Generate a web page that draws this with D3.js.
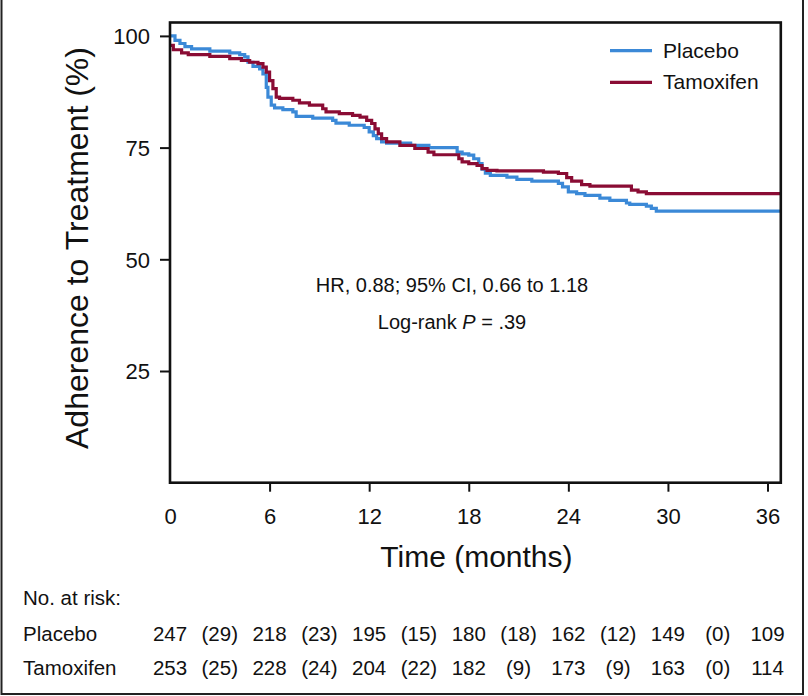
<!DOCTYPE html>
<html>
<head>
<meta charset="utf-8">
<script src="https://cdn.jsdelivr.net/npm/d3@7"></script>
<style>
  html, body { margin: 0; padding: 0; background: #fff; }
  svg { display: block; font-family: "Liberation Sans", Arial, Helvetica, sans-serif; }
</style>
</head>
<body>
<svg id="chart" width="808" height="696"></svg>
<script>
// ---- data ----
const placeboTimes  = [0, 0.3, 0.6, 0.9, 1.3, 2.4, 3.6, 4.2, 4.5, 4.7, 5.0, 5.4, 5.6, 5.8, 5.9, 6.1, 6.3, 6.8, 7.4, 7.6, 8.6, 9.8, 10.0, 10.8, 11.7, 12.0, 12.25, 12.45, 12.75, 13.05, 14.5, 15.6, 17.3, 17.6, 18.0, 18.3, 18.6, 18.8, 19.0, 19.3, 20.3, 20.9, 21.8, 23.4, 23.65, 24.0, 24.5, 25.0, 25.9, 26.5, 27.5, 27.7, 28.7, 29.0, 29.3, 36.8];
const placeboValues = [100, 99.0, 98.3, 97.6, 97.1, 96.6, 96.2, 95.8, 95.3, 94.1, 93.2, 92.6, 91.5, 88.5, 86.3, 84.5, 83.9, 83.5, 83.0, 82.0, 81.6, 81.1, 80.5, 80.0, 79.5, 78.5, 77.7, 77.0, 76.3, 76.0, 75.5, 75.0, 74.0, 73.6, 73.3, 72.5, 71.4, 70.2, 69.3, 68.8, 68.4, 67.9, 67.5, 67.0, 66.2, 65.1, 64.7, 64.3, 63.7, 63.2, 62.6, 62.3, 61.9, 61.4, 60.8, 60.8];

const tamoxifenTimes  = [0, 0.2, 0.7, 1.1, 2.4, 3.6, 4.3, 4.8, 5.3, 5.6, 5.8, 6.0, 6.2, 6.4, 6.6, 7.4, 7.8, 8.4, 9.2, 9.4, 10.2, 11.0, 11.45, 11.85, 12.15, 12.35, 12.55, 12.75, 13.05, 13.85, 14.75, 15.55, 15.9, 17.4, 17.6, 18.0, 18.5, 18.8, 19.1, 19.7, 22.5, 23.4, 23.9, 24.2, 24.8, 25.3, 27.8, 28.2, 28.7, 36.8];
const tamoxifenValues = [97.9, 96.9, 96.2, 95.8, 95.4, 94.9, 94.5, 94.1, 93.8, 93.0, 91.9, 90.0, 88.2, 86.3, 86.0, 85.6, 85.0, 84.5, 83.7, 83.0, 82.6, 82.2, 81.8, 81.1, 80.4, 79.2, 78.1, 77.0, 76.3, 75.5, 74.8, 74.0, 73.4, 72.5, 71.8, 71.4, 71.0, 70.3, 69.9, 69.8, 69.5, 69.2, 68.3, 67.5, 66.7, 66.4, 65.5, 65.1, 64.7, 64.7];

const xTicks = [0, 6, 12, 18, 24, 30, 36];
const yTicks = [25, 50, 75, 100];

const seriesNames = ["Placebo", "Tamoxifen"];
const seriesColors = ["#3b89d7", "#8a0c34"];

const riskTimes = [0, 6, 12, 18, 24, 30, 36];
const riskMidTimes = [3, 9, 15, 21, 27, 33];
const placeboAtRisk = [247, 218, 195, 180, 162, 149, 109];
const placeboCensored = [29, 23, 15, 18, 12, 0];
const tamoxifenAtRisk = [253, 228, 204, 182, 173, 163, 114];
const tamoxifenCensored = [25, 24, 22, 9, 9, 0];

// ---- layout ----
const svg = d3.select("#chart");
const L = 170, R = 780.8, T = 22.5, B = 482.7;
const x = d3.scaleLinear().domain([0, 36.8]).range([L, R]);
const y = d3.scaleLinear().domain([0, 103]).range([B, T]);

svg.append("rect").attr("width", 808).attr("height", 696).attr("fill", "#fff");

// outer frame (left, bottom, right)
svg.append("path")
  .attr("d", `M1.5,-2 V694 H803 V-2`)
  .attr("fill", "none").attr("stroke", "#222").attr("stroke-width", 2);

// curves
const line = d3.line().curve(d3.curveStepAfter).x(d => x(d[0])).y(d => y(d[1]));
const series = [
  d3.zip(placeboTimes, placeboValues),
  d3.zip(tamoxifenTimes, tamoxifenValues)
];
series.forEach((s, i) => {
  svg.append("path")
    .attr("d", line(s))
    .attr("fill", "none")
    .attr("stroke", seriesColors[i])
    .attr("stroke-width", 3.2)
    .attr("stroke-linejoin", "miter");
});

// axes
const xAxis = d3.axisBottom(x).tickValues(xTicks).tickSize(9).tickPadding(14).tickFormat(d3.format("d"));
const gx = svg.append("g").attr("transform", `translate(0,${B})`).call(xAxis);
gx.select(".domain").remove();
gx.selectAll(".tick line").attr("stroke", "#111").attr("stroke-width", 2);
gx.selectAll(".tick").filter(d => d === 0).select("line").remove();
gx.selectAll(".tick text").attr("font-size", 22).attr("fill", "#111")
  .attr("font-family", "'Liberation Sans', Arial, sans-serif").attr("dy", null).attr("y", 41);

const yAxis = d3.axisLeft(y).tickValues(yTicks).tickSize(10).tickPadding(10);
const gy = svg.append("g").attr("transform", `translate(${L},0)`).call(yAxis);
gy.select(".domain").remove();
gy.selectAll(".tick line").attr("stroke", "#111").attr("stroke-width", 2);
gy.selectAll(".tick text").attr("font-size", 22).attr("fill", "#111")
  .attr("font-family", "'Liberation Sans', Arial, sans-serif").attr("dy", "0.36em");

// plot frame
svg.append("rect")
  .attr("x", L).attr("y", T).attr("width", R - L).attr("height", B - T)
  .attr("fill", "none").attr("stroke", "#111").attr("stroke-width", 2.6);

// axis titles
svg.append("text")
  .attr("x", (L + R) / 2 + 1).attr("y", 567)
  .attr("text-anchor", "middle").attr("font-size", 30).attr("fill", "#111")
  .text("Time (months)");
svg.append("text")
  .attr("transform", "translate(88,248) rotate(-90)")
  .attr("text-anchor", "middle").attr("font-size", 32).attr("fill", "#111")
  .text("Adherence to Treatment (%)");

// legend
const legend = svg.append("g");
seriesNames.forEach((name, i) => {
  const ly = 50.7 + i * 31.6;
  legend.append("line")
    .attr("x1", 610).attr("x2", 652).attr("y1", ly).attr("y2", ly)
    .attr("stroke", seriesColors[i]).attr("stroke-width", 3.2);
  legend.append("text")
    .attr("x", 663).attr("y", ly + 6.8)
    .attr("font-size", 21).attr("fill", "#111")
    .text(name);
});

// annotation
svg.append("text")
  .attr("x", 452).attr("y", 292).attr("text-anchor", "middle")
  .attr("font-size", 20).attr("fill", "#111")
  .text("HR, 0.88; 95% CI, 0.66 to 1.18");
const lr = svg.append("text")
  .attr("x", 452).attr("y", 329).attr("text-anchor", "middle")
  .attr("font-size", 20).attr("fill", "#111");
lr.append("tspan").text("Log-rank ");
lr.append("tspan").attr("font-style", "italic").text("P");
lr.append("tspan").text(" = .39");

// number at risk table
const tbl = svg.append("g").attr("font-size", 20.5).attr("fill", "#111");
tbl.append("text").attr("x", 23).attr("y", 605).text("No. at risk:");
const rows = [
  { name: "Placebo", atRisk: placeboAtRisk, cens: placeboCensored, yy: 641 },
  { name: "Tamoxifen", atRisk: tamoxifenAtRisk, cens: tamoxifenCensored, yy: 674.5 }
];
rows.forEach(r => {
  tbl.append("text").attr("x", 23).attr("y", r.yy).text(r.name);
  r.atRisk.forEach((v, j) => {
    tbl.append("text").attr("x", x(riskTimes[j])).attr("y", r.yy)
      .attr("text-anchor", "middle").text(v);
  });
  r.cens.forEach((v, j) => {
    tbl.append("text").attr("x", x(riskMidTimes[j])).attr("y", r.yy)
      .attr("text-anchor", "middle").text(`(${v})`);
  });
});
</script>
</body>
</html>
